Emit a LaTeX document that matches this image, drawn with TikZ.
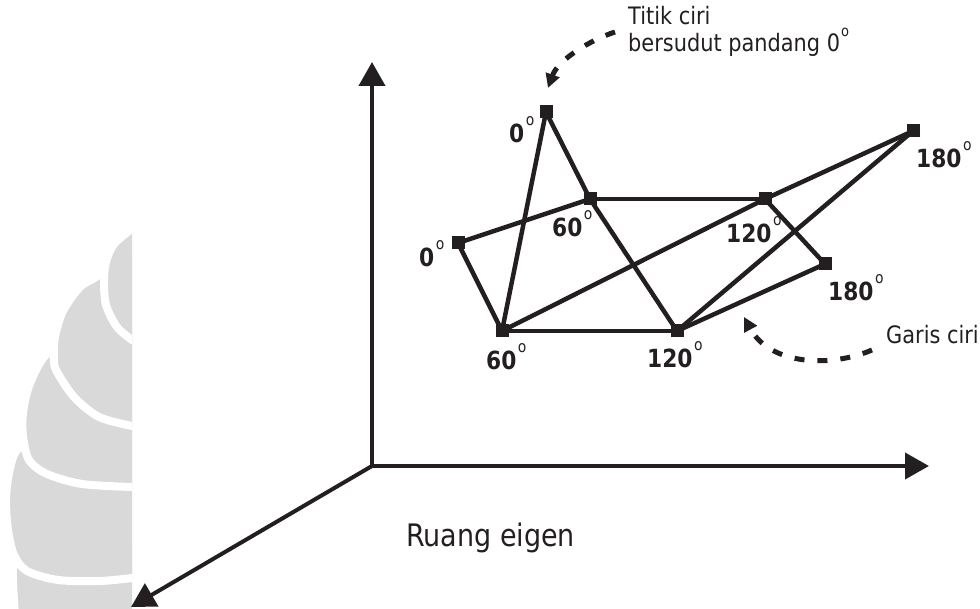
\documentclass[tikz,border=0pt]{standalone}
\usepackage{fontspec}
\setmainfont[FakeStretch=0.87]{DejaVu Sans}
\usetikzlibrary{arrows.meta}
\definecolor{ink}{RGB}{35,31,32}
\definecolor{wm}{RGB}{217,217,217}
\newcommand\dg{\kern1.5pt\raisebox{17pt}{\fontsize{16}{16}\selectfont\mdseries o}}
\newcommand\dgt{\kern1pt\raisebox{15pt}{\fontsize{15}{15}\selectfont o}}
\begin{document}
\begin{tikzpicture}[x=1pt,y=-1pt,
  sq/.style={fill=ink, minimum size=13pt, inner sep=0pt, draw=none},
  edge/.style={draw=ink, line width=4.5pt, line cap=round},
  axis/.style={draw=ink, line width=4pt},
  tipbig/.style={-{Triangle[length=24pt,width=26pt]}},
  lbl/.style={anchor=base west, inner sep=0pt, text=ink, font=\fontsize{25}{30}\selectfont\bfseries},
  txt/.style={anchor=base west, inner sep=0pt, text=ink, font=\fontsize{24}{28}\selectfont},
  dasharrow/.style={draw=ink, line width=5pt, dash pattern=on 10pt off 13pt, -{Triangle[length=14pt,width=14pt]}},
  lobe/.style={fill=wm, draw=white, line width=8pt},
]
\useasboundingbox (0,0) rectangle (980,609);

% watermark
\begin{scope}
\clip (-10,-10) rectangle (132,620);
\path[lobe] plot[smooth] coordinates {(35,545) (15,558) (13,580) (15,615)} -- (150,625) -- (150,545) -- cycle;
\path[lobe] plot[smooth] coordinates {(40,438) (17,450) (9,473) (6,500) (8,530) (14,555) (27,571) (58,580) (100,581) (132,578)} -- (150,578) -- (150,438) -- cycle;
\path[lobe] plot[smooth] coordinates {(70,335) (44,357) (29,386) (23,413) (23,436) (29,460) (47,474) (82,484) (132,487)} -- (150,487) -- (150,335) -- cycle;
\path[lobe] plot[smooth] coordinates {(120,258) (96,277) (80,287) (63,311) (55,337) (54,357) (56,370) (74,397) (99,417) (132,426)} -- (150,426) -- (150,258) -- cycle;
\path[lobe] plot[smooth] coordinates {(134,227) (114,244) (106,262) (104,280) (106,305) (117,327) (132,340)} -- (150,340) -- (150,227) -- cycle;
\end{scope}

% axes
\coordinate (o) at (372,466);
\coordinate (ytip) at (372,62);
\coordinate (xtip) at (929,466);
\coordinate (ztip) at (131,607);
\draw[axis, {Triangle[length=24pt,width=26pt]}-{Triangle[length=24pt,width=26pt]}] (ytip) -- (o) -- (xtip);
\draw[axis, tipbig] (o) -- (ztip);

% feature points
\node[sq] (a0) at (546,112) {};
\node[sq] (a60) at (590,199) {};
\node[sq] (b0) at (458,243) {};
\node[sq] (b60) at (502,331) {};
\node[sq] (b120) at (677,331) {};
\node[sq] (a120) at (765,199) {};
\node[sq] (b180) at (825,264) {};
\node[sq] (a180) at (913,131) {};

% feature lines
\draw[edge] (a0.center) -- (a60.center);
\draw[edge] (a0.center) -- (b60.center);
\draw[edge] (b0.center) -- (a60.center);
\draw[edge] (b0.center) -- (b60.center);
\draw[edge] (a60.center) -- (a120.center);
\draw[edge] (a60.center) -- (b120.center);
\draw[edge] (b60.center) -- (b120.center);
\draw[edge] (b60.center) -- (a120.center);
\draw[edge] (a120.center) -- (a180.center);
\draw[edge] (a120.center) -- (b180.center);
\draw[edge] (b120.center) -- (a180.center);
\draw[edge] (b120.center) -- (b180.center);

% labels
\node[lbl] (l1) at (509,143) {0\dg};
\node[lbl] (l2) at (552,237) {60\dg};
\node[lbl] (l3) at (419,267) {0\dg};
\node[lbl] (l4) at (486,370) {60\dg};
\node[lbl] (l5) at (647,368) {120\dg};
\node[lbl] (l6) at (726,243) {120\dg};
\node[lbl] (l7) at (828,301) {180\dg};
\node[lbl] (l8) at (916,168) {180\dg};

% annotations
\node[txt] (t1) at (628,25) {Titik ciri};
\node[txt] (t2) at (628,52) {bersudut pandang 0\dgt};
\node[txt] (t3) at (886,344) {Garis ciri};
\node[txt, font=\fontsize{31}{36}\selectfont] (t4) at (406,546) {Ruang eigen};

\coordinate (d1s) at (615,32);
\coordinate (d1e) at (548,88);
\draw[dasharrow] (d1s) .. controls (590,40) and (558,60) .. (d1e);
\coordinate (d2s) at (872,350);
\coordinate (d2e) at (744,317);
\draw[dasharrow] (d2s) .. controls (830,368) and (770,365) .. (d2e);
\end{tikzpicture}
\end{document}
